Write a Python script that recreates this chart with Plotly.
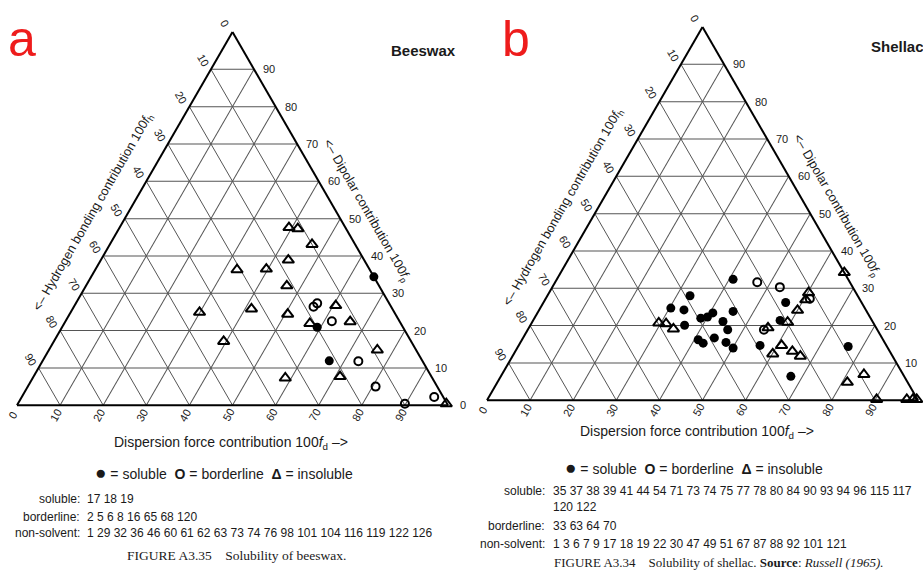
import math
import plotly.graph_objects as go

W, H = 923, 571
S3 = math.sqrt(3)

# ---------------- data (percent contributions: fp = dipolar, fd = dispersion; fh = 100 - fp - fd)
bw_soluble_fp = [34.4, 20.9, 11.9]
bw_soluble_fd = [65.6, 59.2, 66.5]
bw_border_fp = [27.3, 26.4, 22.5, 11.8, 5.0, 2.2, 0.4]
bw_border_fd = [56.0, 55.6, 61.8, 73.3, 80.7, 95.7, 89.8]
bw_insol_fp = [47.6, 47.3, 43.1, 38.9, 36.3, 36.5, 32.0, 26.7, 24.9, 25.8, 24.4, 21.9,
               22.4, 17.1, 14.8, 7.3, 7.7, 0.4]
bw_insol_fd = [39.3, 41.5, 46.9, 43.5, 32.9, 39.6, 46.6, 60.6, 29.9, 41.5, 50.6, 57.0,
               66.1, 39.4, 76.2, 58.6, 71.1, 99.4]

sh_soluble_fp = [32.4, 28.0, 24.7, 24.2, 20.1, 22.0, 22.3, 23.4, 23.8, 21.1, 18.9, 16.2,
                 15.3, 16.7, 15.5, 14.0, 14.7, 26.2, 21.4, 6.4, 14.4]
sh_soluble_fd = [40.9, 33.1, 30.3, 33.6, 35.8, 38.6, 40.0, 40.7, 45.2, 44.2, 46.4, 40.9,
                 42.5, 44.4, 47.7, 50.1, 56.0, 56.2, 57.3, 67.3, 76.6]
sh_border_fp = [31.6, 30.3, 27.2, 18.9]
sh_border_fd = [46.9, 52.8, 61.3, 54.8]
sh_insol_fp = [20.7, 20.5, 19.1, 34.2, 28.8, 26.9, 24.1, 20.9, 19.4, 14.7, 13.1, 12.4,
               11.8, 6.9, 4.8, 0.2, 0.2, 0.2, 0.2]
sh_insol_fd = [29.5, 31.3, 33.7, 65.8, 60.2, 60.5, 60.0, 59.3, 55.5, 61.0, 64.3, 60.1,
               66.8, 84.0, 81.2, 90.3, 97.3, 98.7, 99.6]

tick_values = [0, 10, 20, 30, 40, 50, 60, 70, 80, 90]

bw_lists = [("soluble:", ["17 18 19"]),
            ("borderline:", ["2 5 6 8 16 65 68 120"]),
            ("non-solvent:", ["1 29 32 36 46 60 61 62 63 73 74 76 98 101 104 116 119 122 126"])]
sh_lists = [("soluble:", ["35 37 38 39 41 44 54 71 73 74 75 77 78 80 84 90 93 94 96 115 117",
                          "120 122"]),
            ("borderline:", ["33 63 64 70"]),
            ("non-solvent:", ["1 3 6 7 9 17 18 19 22 30 47 49 51 67 87 88 92 101 121"])]

# ---------------- panel geometry (pixel placement of each triangle)
panels = [
    dict(key="ternary", left=17, top=32, side=431),
    dict(key="ternary2", left=487, top=27, side=431),
]
for p in panels:
    p["h"] = p["side"] * S3 / 2
    p["domain_x"] = [p["left"] / W, (p["left"] + p["side"]) / W]
    p["domain_y"] = [1 - (p["top"] + p["h"]) / H, 1 - p["top"] / H]


def tpx(p, fp, fd):
    x = p["left"] + (fd + fp / 2) / 100 * p["side"]
    y = p["top"] + p["h"] - fp / 100 * p["h"]
    return x, y


def paper(x, y):
    return x / W, 1 - y / H


SANS = "Liberation Sans, Arial, sans-serif"
SERIF = "Liberation Serif, Times New Roman, serif"
TXT = "#1a1a1a"

fig = go.Figure()
annotations = []


def ann(x, y, text, size=12, angle=0, xanchor="center", yanchor="middle",
        family=SANS, color=TXT):
    if x > W - 3:
        return
    px_, py_ = paper(x, y)
    annotations.append(dict(x=px_, y=py_, xref="paper", yref="paper", text=text,
                            showarrow=False, textangle=angle, xanchor=xanchor,
                            yanchor=yanchor, font=dict(family=family, size=size, color=color)))


def add_points(sub, fp, fd, symbol, size, lw):
    fh = [round(100 - a - c, 3) for a, c in zip(fp, fd)]
    fig.add_trace(go.Scatterternary(
        subplot=sub, a=fp, b=fh, c=fd, mode="markers", cliponaxis=False,
        marker=dict(symbol=symbol, size=size, color="black",
                    line=dict(width=lw, color="black")),
        showlegend=False, hoverinfo="skip"))


datasets = [
    (bw_soluble_fp, bw_soluble_fd, bw_border_fp, bw_border_fd, bw_insol_fp, bw_insol_fd),
    (sh_soluble_fp, sh_soluble_fd, sh_border_fp, sh_border_fd, sh_insol_fp, sh_insol_fd),
]

axis_common = dict(min=0, showgrid=True, gridcolor="#555555", gridwidth=1,
                   linecolor="black", linewidth=2, showticklabels=False, ticks="",
                   tickmode="linear", tick0=0, dtick=10, showline=True,
                   title=dict(text=""))

layout_ternaries = {}
for p, ds in zip(panels, datasets):
    layout_ternaries[p["key"]] = dict(
        domain=dict(x=p["domain_x"], y=p["domain_y"]), sum=100, bgcolor="white",
        aaxis=axis_common, baxis=axis_common, caxis=axis_common)
    sfp, sfd, bfp, bfd, ifp, ifd = ds
    add_points(p["key"], ifp, ifd, "triangle-up-open", 10, 2)
    add_points(p["key"], bfp, bfd, "circle-open", 8, 2)
    add_points(p["key"], sfp, sfd, "circle", 9, 0)

    # tick labels at the ends of the grid lines
    for v in tick_values:
        bx, by = tpx(p, 0, v)               # dispersion (bottom edge)
        ann(bx - 4, by + 10, str(v), size=11, angle=-60)
        lx, ly = tpx(p, 100 - v, 0)         # hydrogen bonding (left edge)
        ann(lx - 8, ly - 9, str(v), size=11, angle=60)
        rx, ry = tpx(p, v, 100 - v)         # dipolar (right edge)
        ann(rx + 15, ry, str(v), size=11, angle=0)

    # axis titles along the edges
    blx, bly = tpx(p, 0, 0)
    brx, bry = tpx(p, 0, 100)
    apx, apy = tpx(p, 100, 0)
    t, d = 0.476, 31
    ann(blx + t * (apx - blx) - 0.866 * d, bly + t * (apy - bly) - 0.5 * d,
        "&lt;– Hydrogen bonding contribution 100<i>f</i><sub>h</sub>", size=12.8, angle=-60)
    t, d = 0.486, 27
    ann(brx + t * (apx - brx) + 0.866 * d, bry + t * (apy - bry) - 0.5 * d,
        "&lt;– Dipolar contribution 100<i>f</i><sub>p</sub>", size=12.8, angle=60)

legend_text = ('<span style="font-size:19px">●</span> = soluble  <b>O</b> = borderline  '
               '<b>Δ</b> = insoluble')

# ---------------- left panel texts
ann(22, 39, "a", size=50, color="#ee1c1c")
ann(423, 51, "<b>Beeswax</b>", size=15)
ann(231, 443, "Dispersion force contribution 100<i>f</i><sub>d</sub> –&gt;", size=14)
ann(224, 472, legend_text, size=14)
ys = [499, 517, 533]
for (lab, vals), y in zip(bw_lists, ys):
    ann(82, y, lab, size=12, xanchor="right")
    ann(85, y, vals[0], size=12, xanchor="left")
ann(236, 555, "FIGURE A3.35&nbsp;&nbsp;&nbsp; Solubility of beeswax.", size=13.5, family=SERIF)

# ---------------- right panel texts
ann(516, 39, "b", size=50, color="#ee1c1c")
ann(869, 46, "<b>Shellac</b>", size=15, xanchor="left")
ann(697, 432, "Dispersion force contribution 100<i>f</i><sub>d</sub> –&gt;", size=14)
ann(694, 467, legend_text, size=14)
row_y = {"soluble:": [491, 507], "borderline:": [526], "non-solvent:": [544]}
for lab, vals in sh_lists:
    yy = row_y[lab]
    ann(547, yy[0], lab, size=12, xanchor="right")
    for v, y in zip(vals, yy):
        ann(551, y, v, size=12, xanchor="left")
ann(718, 562, "FIGURE A3.34&nbsp;&nbsp;&nbsp; Solubility of shellac. <b>Source</b>: <i>Russell (1965).</i>",
    size=13, family=SERIF)

fig.update_layout(
    width=W, height=H, margin=dict(l=0, r=0, t=0, b=0),
    paper_bgcolor="white", plot_bgcolor="white", showlegend=False,
    annotations=annotations, **layout_ternaries)

fig.write_html("out.html", config={"displayModeBar": False})
